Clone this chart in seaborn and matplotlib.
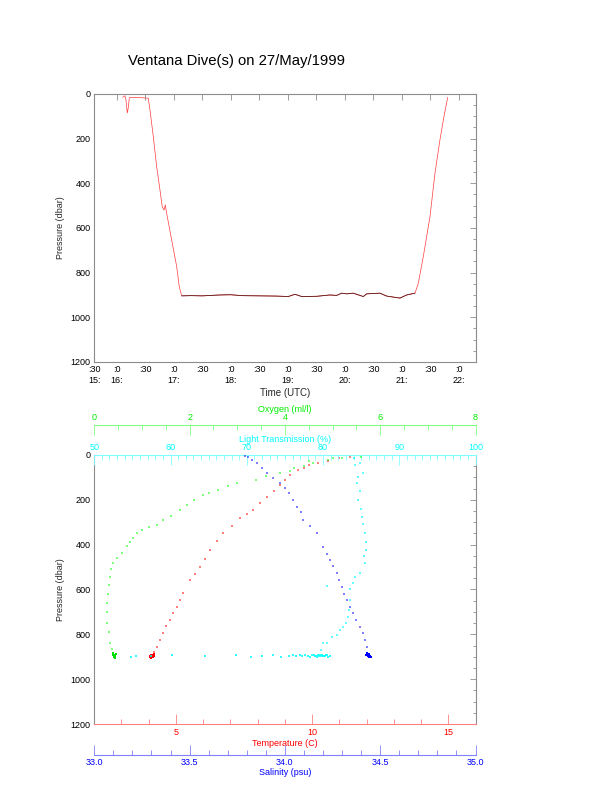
import seaborn as sns
import matplotlib.pyplot as plt
from matplotlib.ticker import MultipleLocator, FixedLocator

# ---- dive track (top panel): time in decimal hours UTC, pressure in dbar
dive_hours = [16.105, 16.145, 16.163, 16.186, 16.203, 16.221, 16.233, 16.40,
              16.554, 16.584, 16.642, 16.701, 16.759, 16.799, 16.829, 16.852,
              16.876, 16.964, 17.052, 17.097, 17.139, 17.30, 17.50, 17.811,
              18.0, 18.191, 18.5, 18.8, 19.008, 19.125, 19.243, 19.506,
              19.739, 19.856, 19.944, 20.032, 20.147, 20.323, 20.382, 20.615,
              20.733, 20.966, 21.083, 21.229, 21.287, 21.374, 21.492, 21.579,
              21.666, 21.737, 21.802]
dive_dbar = [15, 8, 27, 85, 63, 19, 15, 16,
             19, 72, 191, 325, 430, 505, 520, 497,
             534, 654, 773, 863, 904, 903, 904, 900,
             899, 903, 904, 905, 907, 897, 907, 906,
             900, 902, 892, 895, 892, 907, 895, 892,
             905, 914, 900, 892, 848, 729, 549, 355,
             206, 101, 15]
bottom_first, bottom_last = 20, 43

time_ticks = [15.607, 16.0, 16.5, 17.0, 17.5, 18.0, 18.5, 19.0, 19.5,
              20.0, 20.5, 21.0, 21.5, 22.0]
time_labels = [":30\n15:", ":0\n16:", ":30\n", ":0\n17:", ":30\n", ":0\n18:",
               ":30\n", ":0\n19:", ":30\n", ":0\n20:", ":30\n", ":0\n21:",
               ":30\n", ":0\n22:"]

# ---- profiles (bottom panel)
oxy_val = [5.6, 5.2, 4.9, 4.6, 4.4, 4.2, 4.1, 3.9, 3.6, 3.39, 3.0, 2.8, 2.6,
           2.4, 2.28, 2.1, 1.95, 1.8, 1.6, 1.45, 1.31, 1.15, 1.0, 0.9, 0.82,
           0.75, 0.68, 0.58, 0.47, 0.40, 0.36, 0.34, 0.31, 0.28, 0.27, 0.27,
           0.27, 0.30, 0.34, 0.37, 4.5, 5.0]
oxy_dbar = [8, 15, 22, 35, 48, 60, 70, 80, 95, 112, 125, 140, 155,
            168, 178, 200, 222, 245, 270, 292, 312, 322, 335, 350, 370,
            390, 408, 437, 460, 482, 510, 544, 580, 620, 660, 700,
            749, 790, 839, 865, 28, 12]
oxy_bot_val = [0.40, 0.42, 0.44, 0.41, 0.43, 0.45, 0.39, 0.42, 0.43, 0.41]
oxy_bot_dbar = [885, 890, 895, 900, 905, 888, 893, 898, 902, 896]

temp_val = [11.4, 11.0, 10.6, 10.2, 9.9, 9.7, 9.48, 9.2, 9.0, 8.82, 8.6, 8.33,
            8.1, 7.83, 7.6, 7.35, 7.05, 6.73, 6.5, 6.25, 6.05, 5.89, 5.7,
            5.52, 5.26, 5.15, 5.03, 4.9, 4.79, 4.65, 4.53, 4.42, 4.30, 4.2]
temp_dbar = [8, 15, 25, 35, 45, 58, 67, 90, 110, 134, 160, 187,
             215, 245, 262, 281, 315, 348, 385, 424, 462, 500, 530,
             558, 616, 645, 678, 707, 736, 765, 794, 825, 857, 878]
temp_bot_val = [4.12, 4.08, 4.15, 4.05, 4.18, 4.10, 4.20, 4.03, 4.14, 4.09]
temp_bot_dbar = [895, 890, 893, 900, 898, 905, 888, 896, 902, 892]

sal_val = [33.79, 33.807, 33.83, 33.852, 33.88, 33.905, 33.94, 33.975, 34.0,
           34.02, 34.043, 34.062, 34.082, 34.095, 34.13, 34.167, 34.2, 34.22,
           34.237, 34.255, 34.272, 34.285, 34.298, 34.31, 34.324, 34.34,
           34.357, 34.375, 34.394, 34.41, 34.42, 34.43]
sal_dbar = [5, 9, 22, 36, 58, 80, 102, 125, 148,
            170, 201, 232, 254, 290, 318, 348, 410, 440,
            468, 497, 526, 558, 589, 618, 647, 676,
            705, 736, 767, 796, 825, 858]
sal_bot_val = [34.437, 34.43, 34.445, 34.44, 34.435, 34.45, 34.428, 34.442,
               34.438, 34.433]
sal_bot_dbar = [892, 885, 895, 900, 898, 903, 890, 888, 896, 893]

trans_val = [84.0, 84.2, 85.2, 84.4, 84.6, 85.1, 85.5, 85.7, 85.5, 84.8, 83.9,
             83.5, 83.3, 82.6, 81.8, 80.5, 79.8, 84.6, 84.8, 85.0, 85.3, 85.6,
             85.4, 84.2, 83.6, 83.4, 83.0, 82.2, 81.2, 80.0, 80.5, 84.8]
trans_dbar = [15, 45, 80, 125, 201, 277, 348, 424, 482, 526, 571,
              647, 723, 767, 803, 839, 870, 100, 160, 240, 310, 390,
              450, 546, 600, 690, 750, 781, 812, 839, 585, 35]
trans_bot_val = [54.8, 55.5, 57.5, 60.2, 64.5, 68.6, 70.5, 72.0, 73.5, 74.5,
                 75.5, 76.0, 76.5, 77.0, 77.3, 77.6, 78.0, 78.3, 78.6, 78.9,
                 79.1, 79.3, 79.5, 79.7, 79.9, 80.1, 80.3, 80.5, 80.7, 80.9,
                 79.2, 79.6, 80.0, 80.4, 78.8]
trans_bot_dbar = [900, 898, 895, 893, 897, 890, 900, 896, 893, 899,
                  895, 892, 898, 894, 897, 893, 896, 899, 894, 897,
                  895, 893, 898, 896, 894, 897, 895, 893, 899, 896,
                  900, 892, 898, 894, 891]

sns.set_theme(style="white")
plt.rcParams["font.family"] = ["Liberation Sans", "DejaVu Sans"]
plt.rcParams["font.size"] = 6.5

fig = plt.figure(figsize=(6.12, 7.85), dpi=100)
frame = "#8c8c8c"

fig.text(0.386, 0.9225, "Ventana Dive(s) on 27/May/1999", ha="center",
         va="center", fontsize=10.7, color="black")

# ---------------- top panel ----------------
ax1 = fig.add_axes([0.154, 0.5389, 0.623, 0.3414])
sns.lineplot(x=dive_hours, y=dive_dbar, sort=False, estimator=None,
             color="#ff3a3a", linewidth=0.5, ax=ax1)
sns.lineplot(x=dive_hours[bottom_first:bottom_last + 1],
             y=dive_dbar[bottom_first:bottom_last + 1], sort=False,
             estimator=None, color="#5a1e1e", linewidth=0.6, ax=ax1)
ax1.set_xlim(15.607, 22.29)
ax1.set_ylim(1200, 0)
ax1.xaxis.set_major_locator(FixedLocator(time_ticks))
ax1.set_xticklabels(time_labels)
ax1.yaxis.set_major_locator(MultipleLocator(200))
ax1.yaxis.set_minor_locator(MultipleLocator(50))
ax1.tick_params(axis="both", which="both", direction="in", top=True,
                right=True, colors=frame, labelcolor="black", labelsize=6.5,
                width=0.6)
ax1.tick_params(axis="both", which="major", length=4, pad=2.5)
ax1.tick_params(axis="y", which="minor", length=2.5)
ax1.set_xlabel("Time (UTC)", fontsize=7, labelpad=2)
ax1.set_ylabel("Pressure (dbar)", fontsize=6.5, labelpad=4)
for s in ax1.spines.values():
    s.set_color(frame)
    s.set_linewidth(0.8)

# ---------------- bottom panel ----------------
ax2 = fig.add_axes([0.154, 0.0777, 0.623, 0.3427])
ax2.set_ylim(1200, 0)
ax2.set_xlim(2, 16)
ax2.yaxis.set_major_locator(MultipleLocator(200))
ax2.yaxis.set_minor_locator(MultipleLocator(50))
ax2.tick_params(axis="y", which="both", direction="in", right=True,
                colors=frame, labelcolor="black", labelsize=6.5, width=0.6)
ax2.tick_params(axis="y", which="major", length=4, pad=2.5)
ax2.tick_params(axis="y", which="minor", length=2.5)
ax2.set_ylabel("Pressure (dbar)", fontsize=6.5, labelpad=4)
for s in ("left", "right"):
    ax2.spines[s].set_color(frame)
    ax2.spines[s].set_linewidth(0.8)
ax2.spines["top"].set_visible(False)

tcol, tfaint = "#ff0000", "#ff8080"
ax2.spines["bottom"].set_color(tfaint)
ax2.spines["bottom"].set_linewidth(0.8)
ax2.xaxis.set_major_locator(FixedLocator([5, 10, 15]))
ax2.xaxis.set_minor_locator(MultipleLocator(1))
ax2.tick_params(axis="x", which="both", direction="in", colors=tfaint,
                labelcolor=tcol, labelsize=6.5, width=0.6)
ax2.tick_params(axis="x", which="major", length=7, pad=3)
ax2.tick_params(axis="x", which="minor", length=3.5)
ax2.set_xlabel("Temperature (C)", fontsize=6.5, color=tcol, labelpad=1)


def twin_axis(pos, lim, major, minor, col, faint, label, offset, fmt=None):
    ax = ax2.twiny()
    ax.set_xlim(*lim)
    for s in ax.spines.values():
        s.set_visible(False)
    ax.spines[pos].set_visible(True)
    ax.spines[pos].set_color(faint)
    ax.spines[pos].set_linewidth(0.8)
    ax.spines[pos].set_position(("outward", offset))
    ax.xaxis.set_ticks_position(pos)
    ax.xaxis.set_label_position(pos)
    ax.xaxis.set_major_locator(MultipleLocator(major))
    ax.xaxis.set_minor_locator(MultipleLocator(minor))
    if fmt:
        ax.xaxis.set_major_formatter(fmt)
    ax.tick_params(axis="x", which="both", direction="in", colors=faint,
                   labelcolor=col, labelsize=6.5, width=0.6)
    ax.tick_params(axis="x", which="major", length=7, pad=2)
    ax.tick_params(axis="x", which="minor", length=3.5)
    ax.set_xlabel(label, fontsize=6.5, color=col, labelpad=1)
    return ax


ax_lt = twin_axis("top", (50, 100), 10, 1, "#00ffff", "#80ffff",
                  "Light Transmission (%)", 0)
ax_ox = twin_axis("top", (0, 8), 2, 0.5, "#00ee00", "#80ff80",
                  "Oxygen (ml/l)", 21.6)
ax_sal = twin_axis("bottom", (33, 35), 0.5, 0.1, "#0000ff", "#8080ff",
                   "Salinity (psu)", 22.3, "{x:.1f}")

dot = dict(marker="s", linewidth=0, legend=False)
sns.scatterplot(x=trans_val, y=trans_dbar, ax=ax_lt, color="#00ffff", s=1.5,
                alpha=0.6, **dot)
sns.scatterplot(x=trans_bot_val, y=trans_bot_dbar, ax=ax_lt, color="#00ffff",
                s=1.5, alpha=0.8, **dot)
sns.scatterplot(x=oxy_val, y=oxy_dbar, ax=ax_ox, color="#00ff00", s=1.5,
                alpha=0.5, **dot)
sns.scatterplot(x=oxy_bot_val, y=oxy_bot_dbar, ax=ax_ox, color="#00dd00",
                s=3, alpha=1, **dot)
sns.scatterplot(x=temp_val, y=temp_dbar, ax=ax2, color="#ff0000", s=1.5,
                alpha=0.5, **dot)
sns.scatterplot(x=temp_bot_val, y=temp_bot_dbar, ax=ax2, color="#ff0000",
                s=3, alpha=1, **dot)
sns.scatterplot(x=sal_val, y=sal_dbar, ax=ax_sal, color="#0000ff", s=1.5,
                alpha=0.5, **dot)
sns.scatterplot(x=sal_bot_val, y=sal_bot_dbar, ax=ax_sal, color="#0000ff",
                s=3, alpha=1, **dot)
ax2.set_ylim(1200, 0)

fig.savefig("out.png", dpi=100)
